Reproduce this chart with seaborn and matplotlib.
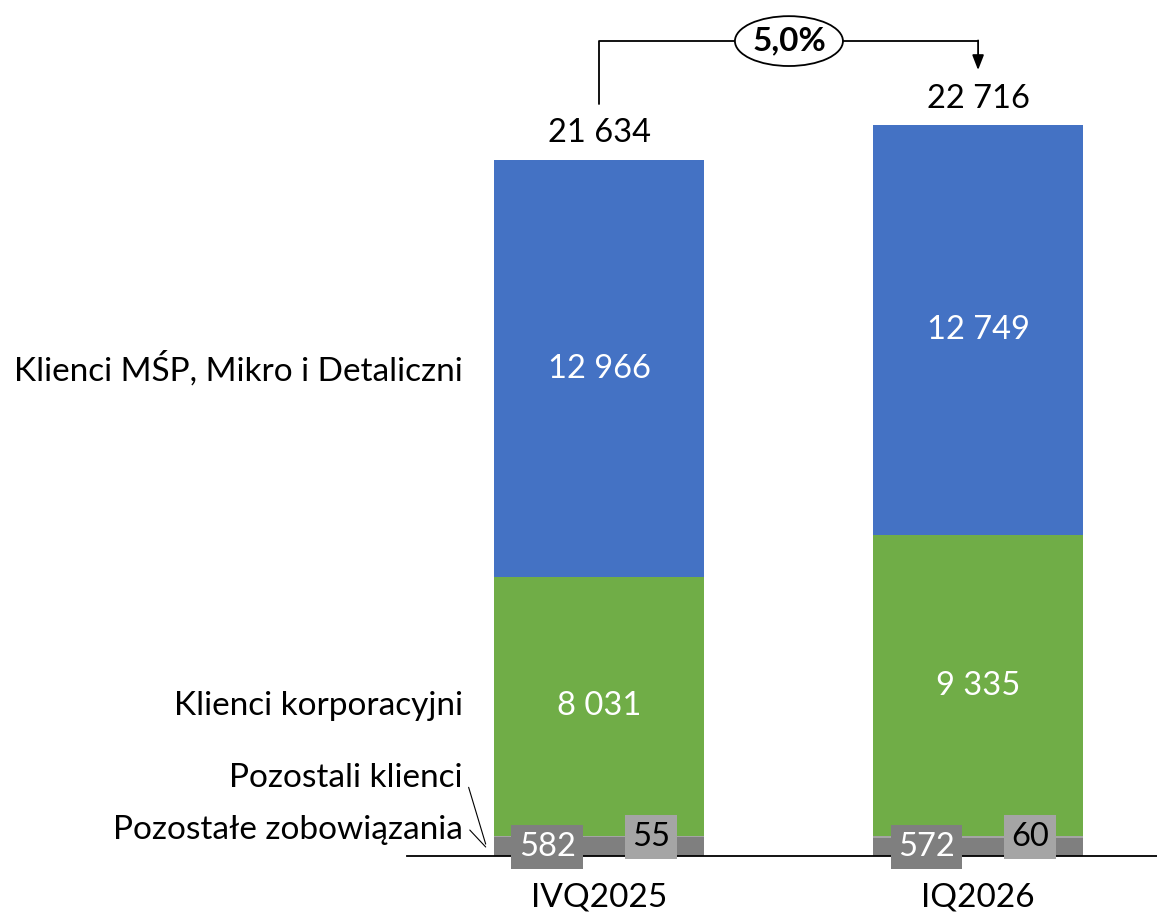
import matplotlib.pyplot as plt
import seaborn as sns
import pandas as pd
from matplotlib.patches import Ellipse

# Data
quarters = ["IVQ2025", "IQ2026"]
msp = [12966, 12749]          # Klienci MŚP, Mikro i Detaliczni
korpo = [8031, 9335]          # Klienci korporacyjni
pozostali = [55, 60]          # Pozostali klienci
zobow = [582, 572]            # Pozostałe zobowiązania
growth_label = "5,0%"

segment_names = ["Klienci MŚP, Mikro i Detaliczni", "Klienci korporacyjni",
                 "Pozostali klienci", "Pozostałe zobowiązania"]

def fmt(v):
    return f"{v:,}".replace(",", " ")

df = pd.DataFrame({"quarter": quarters, "msp": msp, "korpo": korpo,
                   "pozostali": pozostali, "zobow": zobow})
df["lvl_zobow"] = df["zobow"]
df["lvl_pozostali"] = df["lvl_zobow"] + df["pozostali"]
df["lvl_korpo"] = df["lvl_pozostali"] + df["korpo"]
df["total"] = df["lvl_korpo"] + df["msp"]

sns.set_style("white")
plt.rcParams["font.family"] = ["Lato", "DejaVu Sans"]
plt.rcParams["text.color"] = "black"
plt.rcParams["xtick.color"] = "black"

fig = plt.figure(figsize=(11.57, 9.13), dpi=100)
ax = fig.add_axes([407 / 1157, 57 / 913, 750 / 1157, 856 / 913])

colors = {"total": "#4472C4", "lvl_korpo": "#70AD47",
          "lvl_pozostali": "#A5A5A5", "lvl_zobow": "#7F7F7F"}
bw = 0.554
# overlay cumulative bars, tallest first
for col in ["total", "lvl_korpo", "lvl_pozostali", "lvl_zobow"]:
    sns.barplot(data=df, x="quarter", y=col, color=colors[col],
                width=bw, saturation=1, ax=ax, edgecolor="none")

ylim_top = 26609
ax.set_xlim(-0.5066, 1.472)
ax.set_ylim(0, ylim_top)
sns.despine(ax=ax, left=True)
ax.spines["bottom"].set_color("black")
ax.spines["bottom"].set_linewidth(1.3)
ax.set_yticks([])
ax.set_ylabel("")
ax.set_xlabel("")
ax.tick_params(axis="x", length=0, pad=19, labelsize=24, labelcolor="black")

fs_lab = 24
fs_num = 23.5
for i in range(len(quarters)):
    r = df.iloc[i]
    # value labels
    ax.text(i, r["lvl_korpo"] + r["msp"] / 2, fmt(r["msp"]), ha="center",
            va="center", color="white", fontsize=fs_num)
    ax.text(i, r["lvl_pozostali"] + r["korpo"] / 2, fmt(r["korpo"]), ha="center",
            va="center", color="white", fontsize=fs_num)
    ax.text(i, r["total"] + 830, fmt(r["total"]), ha="center", va="center",
            color="black", fontsize=fs_num)
    ax.text(i - 0.137, 280, fmt(r["zobow"]), ha="center", va="center",
            color="white", fontsize=fs_num,
            bbox=dict(boxstyle="square,pad=0.22", fc="#7F7F7F", ec="none"))
    ax.text(i + 0.137, 590, fmt(r["pozostali"]), ha="center", va="center",
            color="black", fontsize=fs_num,
            bbox=dict(boxstyle="square,pad=0.22", fc="#A5A5A5", ec="none"))

# left category labels
r0 = df.iloc[0]
lx = -0.359
ax.text(lx, r0["lvl_korpo"] + r0["msp"] / 2, segment_names[0], ha="right",
        va="center", fontsize=fs_lab)
ax.text(lx, r0["lvl_pozostali"] + r0["korpo"] / 2, segment_names[1], ha="right",
        va="center", fontsize=fs_lab)
ax.text(lx, 2424, segment_names[2], ha="right", va="center", fontsize=fs_lab)
ax.text(lx, 808, segment_names[3], ha="right", va="center", fontsize=fs_lab)
ax.plot([-0.344, -0.299], [2135, 370], color="black", lw=0.8, clip_on=False)
ax.plot([-0.341, -0.299], [808, 280], color="black", lw=0.8, clip_on=False)

# growth bracket
y_br = 25332
ax.plot([0, 0, 1], [23374, y_br, y_br], color="black", lw=1.3, clip_on=False)
ax.annotate("", xy=(1, 24431), xytext=(1, y_br + 20),
            arrowprops=dict(arrowstyle="-|>,head_length=0.9,head_width=0.35",
                            color="black", lw=1.3, shrinkA=0, shrinkB=0))
ax.add_patch(Ellipse((0.501, y_br), 0.285, 1550, fc="white", ec="black",
                     lw=1.3, zorder=5, clip_on=False))
ax.text(0.501, y_br, growth_label, ha="center", va="center", fontsize=24,
        fontweight="bold", zorder=6)

fig.savefig("out.png", dpi=100)
